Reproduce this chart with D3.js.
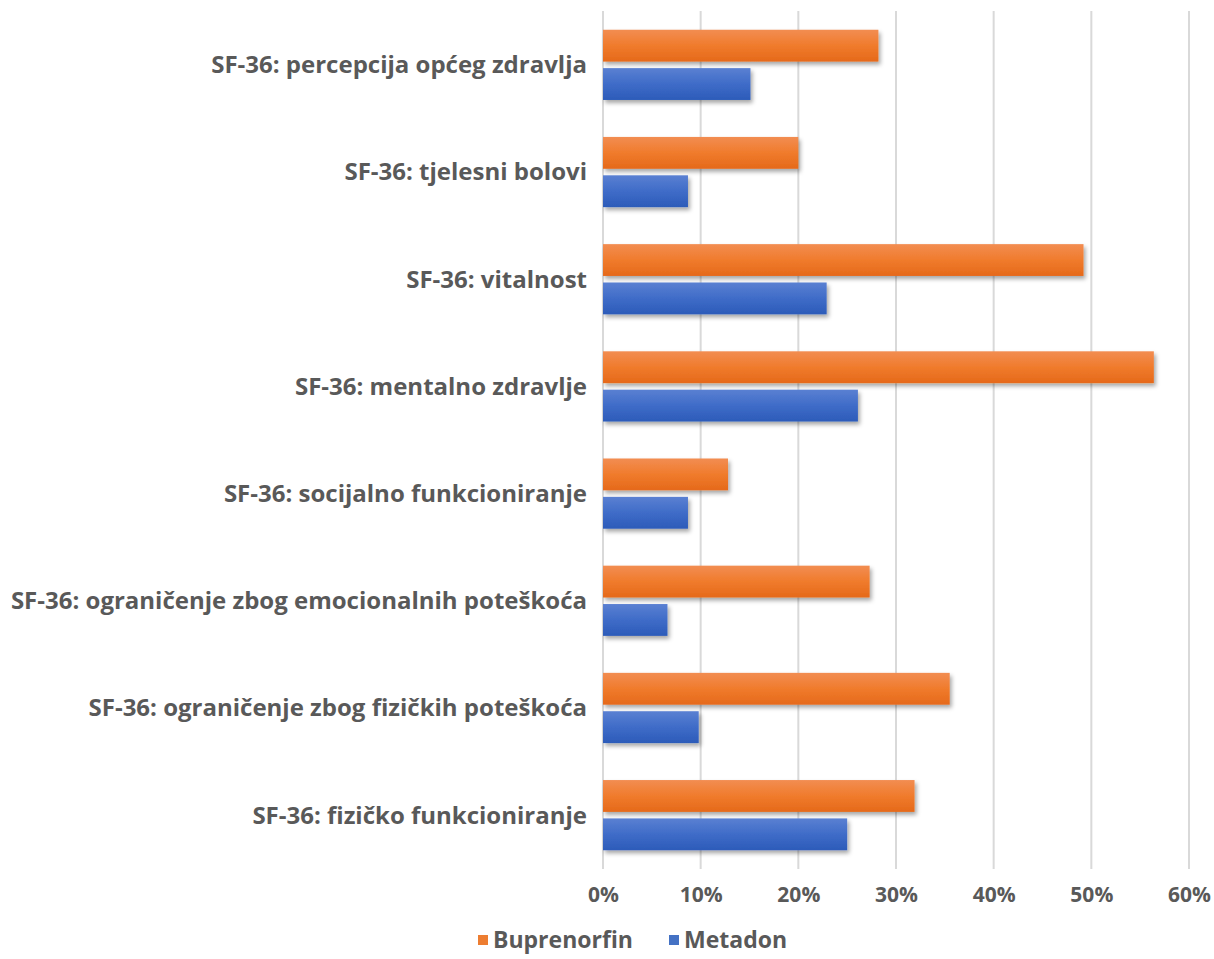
<!DOCTYPE html>
<html>
<head>
<meta charset="utf-8">
<script src="https://cdn.jsdelivr.net/npm/d3@7"></script>
<style>
  body { margin: 0; background: #fff; }
  text { font-family: "Open Sans", sans-serif; font-weight: bold; fill: #595959; }
</style>
</head>
<body>
<script>
// categories top to bottom, values in percent
const categories = [
  'SF-36: percepcija općeg zdravlja',
  'SF-36: tjelesni bolovi',
  'SF-36: vitalnost',
  'SF-36: mentalno zdravlje',
  'SF-36: socijalno funkcioniranje',
  'SF-36: ograničenje zbog emocionalnih poteškoća',
  'SF-36: ograničenje zbog fizičkih poteškoća',
  'SF-36: fizičko funkcioniranje'
];
const buprenorfin = [28.2, 20.0, 49.2, 56.4, 12.8, 27.3, 35.5, 31.9];
const metadon = [15.1, 8.7, 22.9, 26.1, 8.7, 6.6, 9.8, 25.0];
const seriesNames = ['Buprenorfin', 'Metadon'];
const xTicks = [0, 10, 20, 30, 40, 50, 60];

const W = 1214, H = 959;
const margin = { top: 11, right: 24, bottom: 90, left: 603 };
const width = W - margin.left - margin.right;
const height = H - margin.top - margin.bottom;

const rows = categories.map((c, i) => ({ cat: c, vals: [buprenorfin[i], metadon[i]] }));

const svg = d3.select('body').append('svg')
  .attr('width', W).attr('height', H);

const defs = svg.append('defs');
const grads = [
  { id: 'gOrange', top: '#f28d52', mid: '#f07b2c', bot: '#e5691a' },
  { id: 'gBlue', top: '#5a80d2', mid: '#3f6cc8', bot: '#2c5bb9' }
];
grads.forEach(g => {
  const lg = defs.append('linearGradient').attr('id', g.id)
    .attr('x1', 0).attr('y1', 0).attr('x2', 0).attr('y2', 1);
  lg.append('stop').attr('offset', '0%').attr('stop-color', g.top);
  lg.append('stop').attr('offset', '50%').attr('stop-color', g.mid);
  lg.append('stop').attr('offset', '100%').attr('stop-color', g.bot);
});
defs.append('filter').attr('id', 'shadow')
  .attr('x', '-10%').attr('y', '-20%').attr('width', '130%').attr('height', '160%')
  .append('feDropShadow')
  .attr('dx', 2).attr('dy', 3).attr('stdDeviation', 2)
  .attr('flood-color', '#000').attr('flood-opacity', 0.35);

const fills = ['url(#gOrange)', 'url(#gBlue)'];
const legendColors = ['#ed7d31', '#4472c4'];

const g = svg.append('g')
  .attr('transform', 'translate(' + margin.left + ',' + margin.top + ')');

const x = d3.scaleLinear().domain([0, 60]).range([0, 586]);
const y = d3.scaleBand().domain(categories).range([0, height])
  .paddingInner(0.345).paddingOuter(0.175);
const ySub = d3.scaleBand().domain([0, 1]).range([0, y.bandwidth()]).paddingInner(0.17);

// gridlines
g.append('g').selectAll('line').data(xTicks).join('line')
  .attr('x1', d => x(d)).attr('x2', d => x(d))
  .attr('y1', 0).attr('y2', height)
  .attr('stroke', '#d9d9d9').attr('stroke-width', 2);

// bars
const grp = g.append('g').selectAll('g').data(rows).join('g')
  .attr('transform', d => 'translate(0,' + y(d.cat) + ')');
grp.selectAll('rect').data(d => d.vals).join('rect')
  .attr('x', x(0))
  .attr('y', (d, i) => ySub(i))
  .attr('width', d => x(d) - x(0))
  .attr('height', ySub.bandwidth())
  .attr('fill', (d, i) => fills[i])
  .attr('filter', 'url(#shadow)');

// category labels
g.append('g').selectAll('text').data(categories).join('text')
  .attr('x', -16)
  .attr('y', d => y(d) + y.bandwidth() / 2)
  .attr('dy', '0.35em')
  .attr('text-anchor', 'end')
  .style('font-size', '24px')
  .text(d => d);

// x axis
const xAxis = g.append('g')
  .attr('transform', 'translate(0,' + height + ')')
  .call(d3.axisBottom(x).tickValues(xTicks).tickFormat(d => d + '%').tickSize(0).tickPadding(18));
xAxis.select('.domain').remove();
xAxis.selectAll('text').style('font-size', '21px').style('font-family', '"Open Sans", sans-serif').attr('fill', '#595959');

// legend
const legend = svg.append('g').attr('transform', 'translate(478,940)');
let lx = 0;
seriesNames.forEach((s, i) => {
  const item = legend.append('g').attr('transform', 'translate(' + lx + ',0)');
  item.append('rect').attr('x', 0).attr('y', -5).attr('width', 10).attr('height', 10)
    .attr('fill', legendColors[i]);
  const t = item.append('text').attr('x', 15).attr('dy', '0.35em')
    .style('font-size', '23px').text(s);
  lx += 15 + t.node().getComputedTextLength() + 36;
});
</script>
</body>
</html>
